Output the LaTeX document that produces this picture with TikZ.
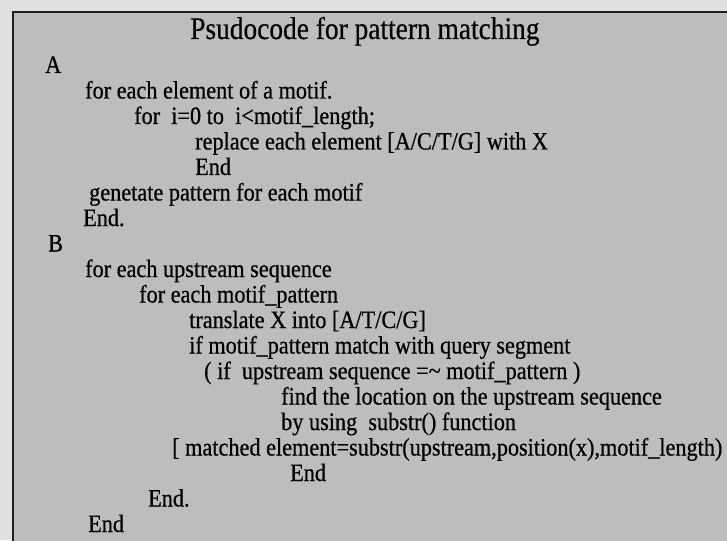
\documentclass[tikz,border=0pt]{standalone}
\usepackage{fontspec}
\setmainfont{Liberation Serif}
\newfontfamily\codefont[FakeStretch=0.89,FakeBold=0.6]{Liberation Serif}
\newfontfamily\headfont[FakeStretch=0.87,FakeBold=0.4]{Liberation Serif}
\definecolor{outbg}{gray}{0.88}
\definecolor{inbg}{gray}{0.74}
\definecolor{frame}{gray}{0.12}
\tikzset{
  codeline/.style={anchor=base west, inner sep=0pt, text=black,
    font=\codefont\fontsize{25}{25.5}\selectfont},
  titletext/.style={anchor=base west, inner sep=0pt, text=black,
    font=\headfont\fontsize{31.5}{32}\selectfont},
  panel/.style={draw=frame, line width=2pt, fill=inbg}
}
\begin{document}
\begin{tikzpicture}[x=1pt,y=-1pt]
\useasboundingbox (0,0) rectangle (727,540);
\clip (0,0) rectangle (727,540);
\fill[outbg] (0,0) rectangle (727,540);
\draw[panel] (12.5,12.5) rectangle (760,580);
\node[titletext] (title) at (190,39) {Psudocode for pattern matching};
\node[codeline] (l0)  at (45,73)    {A};
\node[codeline] (l1)  at (85,98.5)  {for each element of a motif.};
\node[codeline] (l2)  at (134,124)  {for\ \ i=0 to\ \ i<motif\_length;};
\node[codeline] (l3)  at (195,149.5){replace each element [A/C/T/G] with X};
\node[codeline] (l4)  at (195,175)  {End};
\node[codeline] (l5)  at (89,200.5) {genetate pattern for each motif};
\node[codeline] (l6)  at (83,226)   {End.};
\node[codeline] (l7)  at (48,251.5) {B};
\node[codeline] (l8)  at (85,277)   {for each upstream sequence};
\node[codeline] (l9)  at (139,302.5){for each motif\_pattern};
\node[codeline] (l10) at (189,328)  {translate X into [A/T/C/G]};
\node[codeline] (l11) at (189,353.5){if motif\_pattern match with query segment};
\node[codeline] (l12) at (204,379)  {( if\ \ upstream sequence =\textasciitilde\ motif\_pattern )};
\node[codeline] (l13) at (281,404.5){find the location on the upstream sequence};
\node[codeline] (l14) at (281,430)  {by using\ \ substr() function};
\node[codeline] (l15) at (172,455.5){[ matched element=substr(upstream,position(x),motif\_length)};
\node[codeline] (l16) at (290,481)  {End};
\node[codeline] (l17) at (148,506.5){End.};
\node[codeline] (l18) at (88,532)   {End};
\end{tikzpicture}
\end{document}
